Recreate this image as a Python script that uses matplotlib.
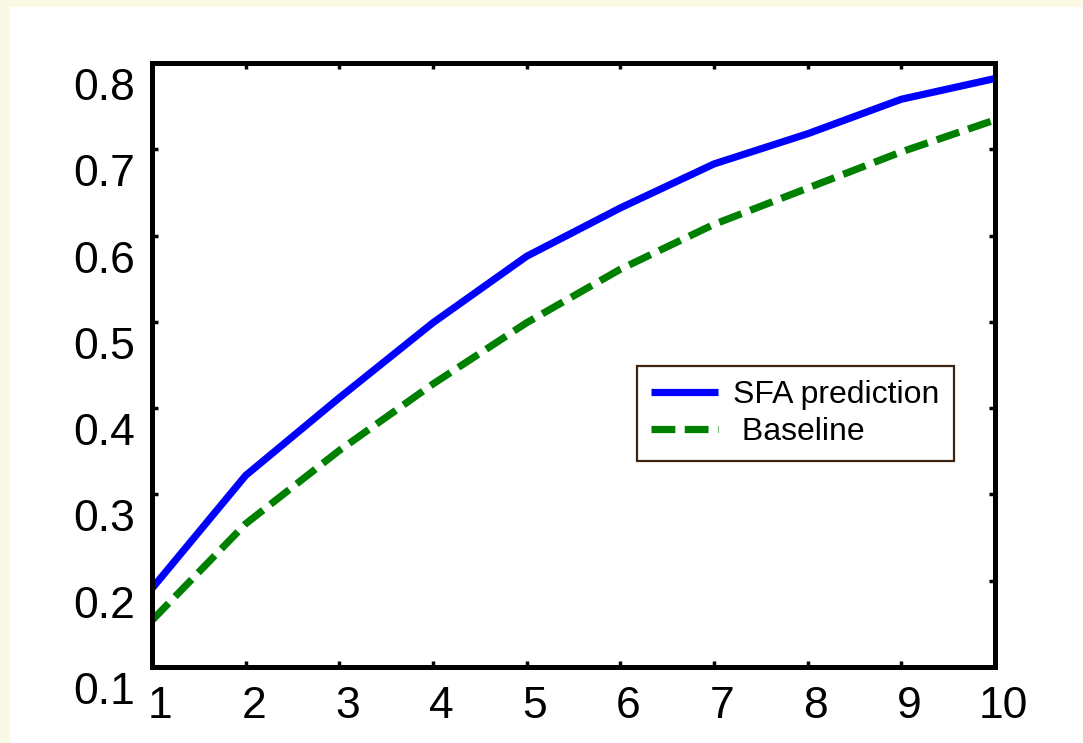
import matplotlib
matplotlib.use("Agg")
import matplotlib.pyplot as plt
import matplotlib.transforms as mtransforms

plt.rcParams['font.family'] = ['Liberation Sans', 'DejaVu Sans']

x_values = [1, 2, 3, 4, 5, 6, 7, 8, 9, 10]
sfa_prediction = [0.191, 0.322, 0.412, 0.499, 0.576, 0.632, 0.683, 0.718, 0.758, 0.782]
baseline = [0.154, 0.266, 0.351, 0.428, 0.499, 0.561, 0.613, 0.655, 0.697, 0.734]
series_labels = ["SFA prediction", " Baseline"]
x_ticks = [1, 2, 3, 4, 5, 6, 7, 8, 9, 10]
y_ticks = [0.1, 0.2, 0.3, 0.4, 0.5, 0.6, 0.7, 0.8]

W, H = 1083, 743
fig = plt.figure(figsize=(W / 100, H / 100), dpi=100)
fig.patch.set_facecolor('#FAF9E4')
# white inner panel
fig.add_artist(plt.Rectangle((10 / W, 0), 1, 1 - 7 / H, transform=fig.transFigure,
                             facecolor='white', edgecolor='none', zorder=0))

ax = fig.add_axes([152 / W, 1 - 667 / H, (995 - 152) / W, (667 - 63) / H])
ax.set_facecolor('white')

ax.plot(x_values, sfa_prediction, color='#0000FF', lw=5.2, solid_capstyle='butt',
        label=series_labels[0])
ax.plot(x_values, baseline, color='#008000', lw=5.2, dashes=(3.3, 1.3),
        dash_capstyle='butt', label=series_labels[1])

ax.set_xlim(1, 10)
ax.set_ylim(0.1, 0.8)
ax.set_xticks(x_ticks)
ax.set_xticklabels([str(v) for v in x_ticks])
ax.set_yticks(y_ticks)
ax.set_yticklabels([f"{v:.1f}" for v in y_ticks])

for s in ax.spines.values():
    s.set_linewidth(3.6)
    s.set_color('black')

ax.tick_params(axis='both', which='major', direction='in', length=4.5, width=2.5,
               top=True, right=True, labelsize=32, colors='black')
ax.tick_params(axis='y', pad=12)
ax.tick_params(axis='x', pad=14)

off_y = mtransforms.ScaledTranslation(0, -0.21, fig.dpi_scale_trans)
for lab in ax.get_yticklabels():
    lab.set_transform(lab.get_transform() + off_y)
off_x = mtransforms.ScaledTranslation(0.08, 0, fig.dpi_scale_trans)
for lab in ax.get_xticklabels():
    lab.set_transform(lab.get_transform() + off_x)

leg = ax.legend(loc='upper left', bbox_to_anchor=((637 - 152) / 843, (667 - 366) / 604),
                borderaxespad=0, fontsize=23, frameon=True, fancybox=False,
                framealpha=1, edgecolor='#3C2410', handlelength=2.1,
                handletextpad=0.45, labelspacing=0.2, borderpad=0.45)
leg.get_frame().set_linewidth(1.6)

fig.savefig('out.png', dpi=100, facecolor=fig.get_facecolor())
